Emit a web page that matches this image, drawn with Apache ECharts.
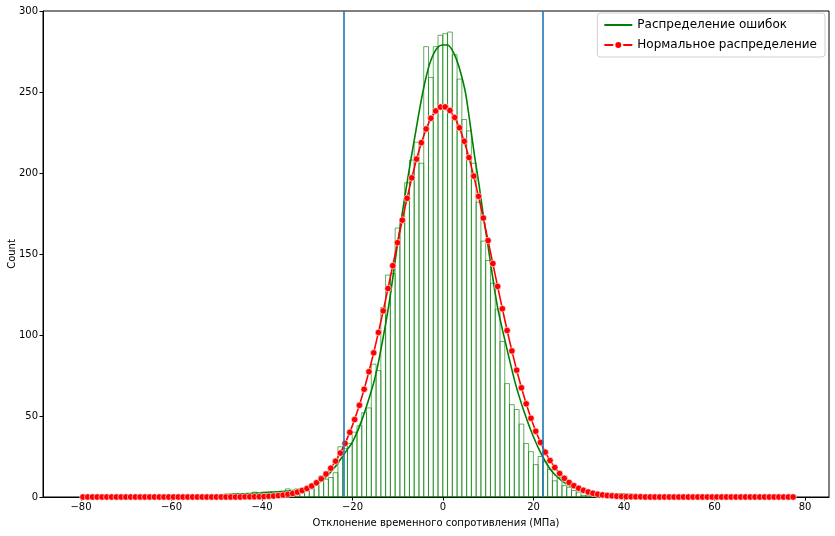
<!DOCTYPE html>
<html>
<head>
<meta charset="utf-8">
<script src="https://cdn.jsdelivr.net/npm/echarts@6/dist/echarts.min.js"></script>
<style>
  html, body { margin: 0; padding: 0; background: #fff; }
  #chart { width: 835px; height: 536px; }
</style>
</head>
<body>
<div id="chart"></div>
<script>
// histogram bins: 150 bins starting at binStart
var binStart = -80.1;
var binWidth = 1.0533;

var histCounts = [
  0, 0, 0, 0, 0, 0, 0, 0, 0, 0,
  0, 0, 0, 0, 0, 0, 0, 0, 0, 0,
  0, 0, 0, 0, 0, 0, 1, 0, 1, 1,
  1, 1, 2, 1, 2, 2, 3, 2, 3, 3,
  2, 2, 3, 5, 3, 5, 4, 4, 5, 7,
  13, 11, 12, 15, 31, 30, 33, 40, 44, 52,
  55, 82, 78, 117, 137, 138, 166, 171, 194, 208,
  219, 206, 278, 259, 278, 285, 286, 287, 273, 258,
  233, 226, 206, 182, 158, 146, 132, 116, 96, 70,
  57, 54, 45, 33, 28, 20, 25, 22, 17, 10,
  12, 7, 6, 4, 3, 1, 1, 3, 2, 1,
  1, 2, 1, 2, 1, 1, 0, 1, 0, 0,
  0, 0, 0, 0, 0, 0, 0, 0, 0, 0,
  0, 0, 0, 0, 0, 0, 0, 0, 0, 0,
  0, 0, 0, 0, 0, 0, 0, 0, 0, 0
];

// red curve, one point per bin centre
var normalValues = [
  0, 0, 0, 0, 0, 0, 0, 0, 0, 0,
  0, 0, 0, 0, 0, 0, 0, 0, 0, 0,
  0, 0, 0, 0, 0, 0, 0, 0, 0, 0,
  0, 0, 0, 0, 0.1, 0.1, 0.15, 0.2, 0.3, 0.5,
  0.6, 0.9, 1.2, 1.7, 2.2, 3.0, 4.0, 5.2, 6.8, 8.8,
  11.2, 14.2, 17.8, 22.1, 27.1, 33.1, 39.9, 47.8, 56.6, 66.5,
  77.3, 89.0, 101.6, 114.9, 128.7, 142.8, 157.0, 170.9, 184.4, 197.0,
  208.6, 218.7, 227.2, 233.8, 238.3, 240.7, 240.8, 238.6, 234.3, 227.9,
  219.6, 209.5, 198.1, 185.6, 172.2, 158.3, 144.1, 130.0, 116.2, 102.8,
  90.2, 78.3, 67.4, 57.5, 48.6, 40.6, 33.7, 27.7, 22.5, 18.2,
  14.5, 11.5, 9.0, 7.0, 5.4, 4.1, 3.1, 2.3, 1.7, 1.3,
  0.9, 0.7, 0.5, 0.3, 0.2, 0.15, 0.1, 0.1, 0, 0,
  0, 0, 0, 0, 0, 0, 0, 0, 0, 0,
  0, 0, 0, 0, 0, 0, 0, 0, 0, 0,
  0, 0, 0, 0, 0, 0, 0, 0, 0, 0
];

// green kde curve
var kdeX = [-80, -70, -60, -55, -50, -46, -42, -40, -38, -36, -34, -32, -30, -28, -26,
  -24, -22, -20, -18, -16, -15, -14, -12, -10, -8, -7, -6, -5, -4, -3, -2, -1, 0,
  1, 2, 3, 4, 5, 6, 7, 8, 9, 10, 12, 14, 16, 18, 20, 22, 24, 26, 28, 30, 32, 34,
  36, 40, 44, 50, 60, 70, 78];
var kdeY = [0.1, 0.2, 0.4, 0.7, 1.2, 1.8, 2.3, 2.6, 3.0, 3.3, 3.8, 4.5, 5.8, 8, 12,
  18, 26, 34, 47, 64, 74, 87, 118, 157, 193, 210, 226, 242, 256, 267, 274, 278, 279,
  279, 276, 270, 261, 249, 230, 210, 192, 172, 154, 118, 93, 70, 52, 37, 25, 16, 10.5, 7, 5, 3.5, 2.6,
  2.2, 1.8, 1.2, 0.6, 0.2, 0.1, 0];

var xTicks = [-80, -60, -40, -20, 0, 20, 40, 60, 80];
var vLines = [-22, 22];

var histData = [];
var normalData = [];
for (var i = 0; i < histCounts.length; i++) {
  var x0 = binStart + i * binWidth;
  histData.push([x0, x0 + binWidth, histCounts[i]]);
  normalData.push([x0 + binWidth / 2, normalValues[i]]);
}
var kdeData = kdeX.map(function (x, i) { return [x, kdeY[i]]; });

var font = 'DejaVu Sans';
var chart = echarts.init(document.getElementById('chart'));

chart.setOption({
  animation: false,
  backgroundColor: '#fff',
  textStyle: { fontFamily: font },
  grid: {
    left: 43, right: 6, top: 11, bottom: 39,
    containLabel: false,
    outerBoundsMode: 'none',
    show: true, borderColor: '#000', borderWidth: 1, backgroundColor: 'transparent'
  },
  legend: {
    orient: 'vertical',
    right: 10,
    top: 13,
    data: [
      { name: 'Распределение ошибок', itemStyle: { opacity: 0 } },
      { name: 'Нормальное распределение' }
    ],
    itemWidth: 28,
    itemHeight: 10,
    itemGap: 8,
    padding: [6, 8, 6, 6],
    borderColor: '#d0d0d0',
    borderWidth: 1,
    borderRadius: 3,
    backgroundColor: 'rgba(255,255,255,0.8)',
    textStyle: { fontFamily: font, fontSize: 12, color: '#000' }
  },
  xAxis: {
    type: 'value',
    min: -88.4,
    max: 85.3,
    name: 'Отклонение временного сопротивления (МПа)',
    nameLocation: 'middle',
    nameGap: 21,
    nameMoveOverlap: false,
    nameTextStyle: { fontFamily: font, fontSize: 10, color: '#000' },
    axisLine: { show: true, onZero: false, lineStyle: { color: '#000', width: 1 } },
    axisTick: { show: true, length: 3.5, lineStyle: { color: '#000' }, customValues: xTicks },
    axisLabel: {
      fontFamily: font, fontSize: 10, color: '#000', margin: 5,
      customValues: xTicks,
      formatter: function (v) { return v < 0 ? '\u2212' + Math.abs(v) : String(v); }
    },
    splitLine: { show: false }
  },
  yAxis: {
    type: 'value',
    min: 0,
    max: 300,
    interval: 50,
    name: 'Count',
    nameLocation: 'middle',
    nameRotate: 90,
    nameGap: 26,
    nameMoveOverlap: false,
    nameTextStyle: { fontFamily: font, fontSize: 10, color: '#000' },
    axisLine: { show: true, onZero: false, lineStyle: { color: '#000', width: 1 } },
    axisTick: { show: true, length: 3.5, lineStyle: { color: '#000' } },
    axisLabel: { fontFamily: font, fontSize: 10, color: '#000', margin: 5 },
    splitLine: { show: false }
  },
  series: [
    {
      name: 'hist',
      type: 'custom',
      data: histData,
      encode: { x: [0, 1], y: 2 },
      renderItem: function (params, api) {
        var h = api.value(2);
        if (!h) return;
        var p0 = api.coord([api.value(0), h]);
        var p1 = api.coord([api.value(1), 0]);
        return {
          type: 'rect',
          shape: { x: p0[0], y: p0[1], width: p1[0] - p0[0], height: p1[1] - p0[1] },
          style: { fill: 'none', stroke: 'rgba(0,128,0,0.62)', lineWidth: 1 }
        };
      },
      z: 1
    },
    {
      name: 'lines',
      type: 'line',
      data: [],
      z: 2,
      markLine: {
        silent: true,
        symbol: ['none', 'none'],
        label: { show: false },
        lineStyle: { type: 'solid', color: '#1f77b4', width: 1.6 },
        data: vLines.map(function (v) { return { xAxis: v }; })
      }
    },
    {
      name: 'Распределение ошибок',
      type: 'line',
      data: kdeData,
      smooth: 0.3,
      showSymbol: false,
      symbol: 'none',
      color: '#008000',
      lineStyle: { color: '#008000', width: 1.6 },
      z: 3
    },
    {
      name: 'Нормальное распределение',
      type: 'line',
      data: normalData,
      symbol: 'circle',
      symbolSize: 6.5,
      showAllSymbol: true,
      color: '#ff0000',
      itemStyle: { color: '#ff0000', borderColor: '#fff', borderWidth: 0.6 },
      lineStyle: { color: '#ff0000', width: 1.6 },
      z: 4
    }
  ]
});
</script>
</body>
</html>
